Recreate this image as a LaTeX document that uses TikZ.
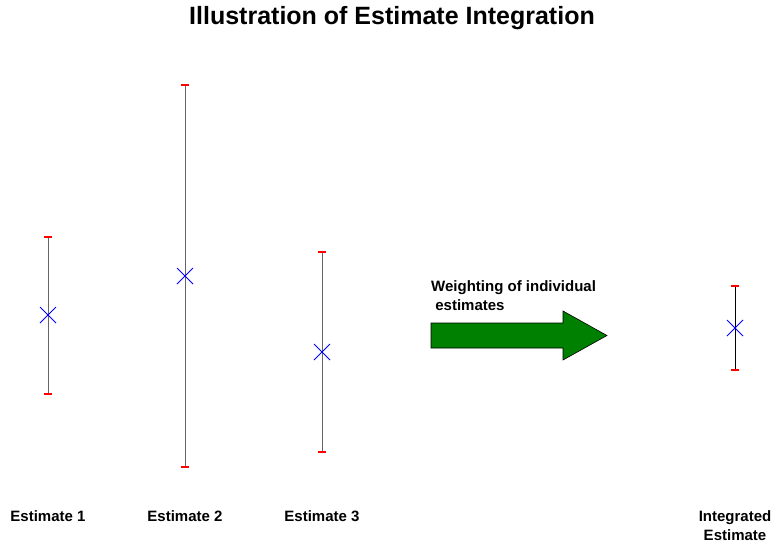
\documentclass[tikz,border=0pt]{standalone}
\usepackage{fontspec}
\setmainfont{Liberation Sans}
\begin{document}
\begin{tikzpicture}[x=1pt,y=-1pt,
  bar/.style={draw=black!60, line width=1pt},
  ibar/.style={draw=black, line width=1pt},
  endcap/.style={draw=red, line width=2pt},
  cross/.style={draw=blue, line width=0.8pt},
  lab/.style={font=\fontsize{15}{19}\selectfont\bfseries, align=center, inner sep=0pt},
  arrowbody/.style={draw=black, fill=green!50!black, line width=0.6pt}]
\useasboundingbox (0,0) rectangle (771,542);
\node[font=\fontsize{25}{30}\selectfont\bfseries, inner sep=0pt] (title) at (392,18) {Illustration of Estimate Integration};
% error bars
\foreach \n/\x/\t/\b/\c/\s in {e1/48/237/394/315/bar, e2/185/85/467/276/bar, e3/322/252/452/352/bar, ei/735/286/370/328/ibar}{
  \coordinate (\n t) at (\x,\t);
  \coordinate (\n b) at (\x,\b);
  \coordinate (\n c) at (\x,\c);
  \draw[\s] (\n t) -- (\n b);
  \draw[endcap] ([xshift=-4]\n t) -- ([xshift=4]\n t);
  \draw[endcap] ([xshift=-4]\n b) -- ([xshift=4]\n b);
  \draw[cross] ([shift={(-8,-8)}]\n c) -- ([shift={(8,8)}]\n c);
  \draw[cross] ([shift={(-8,8)}]\n c) -- ([shift={(8,-8)}]\n c);
}
% arrow
\draw[arrowbody] (431,323) -- (563,323) -- (563,311) -- (607,335.5) -- (563,360) -- (563,348) -- (431,348) -- cycle;
\node[lab, anchor=north west, align=left] (wtext) at (431,280.5) {Weighting of individual\\\ estimates};
% labels
\node[lab] (l1) at (48,516) {Estimate 1};
\node[lab] (l2) at (185,516) {Estimate 2};
\node[lab] (l3) at (322,516) {Estimate 3};
\node[lab] (li) at (735,525.5) {Integrated\\Estimate};
\end{tikzpicture}
\end{document}
